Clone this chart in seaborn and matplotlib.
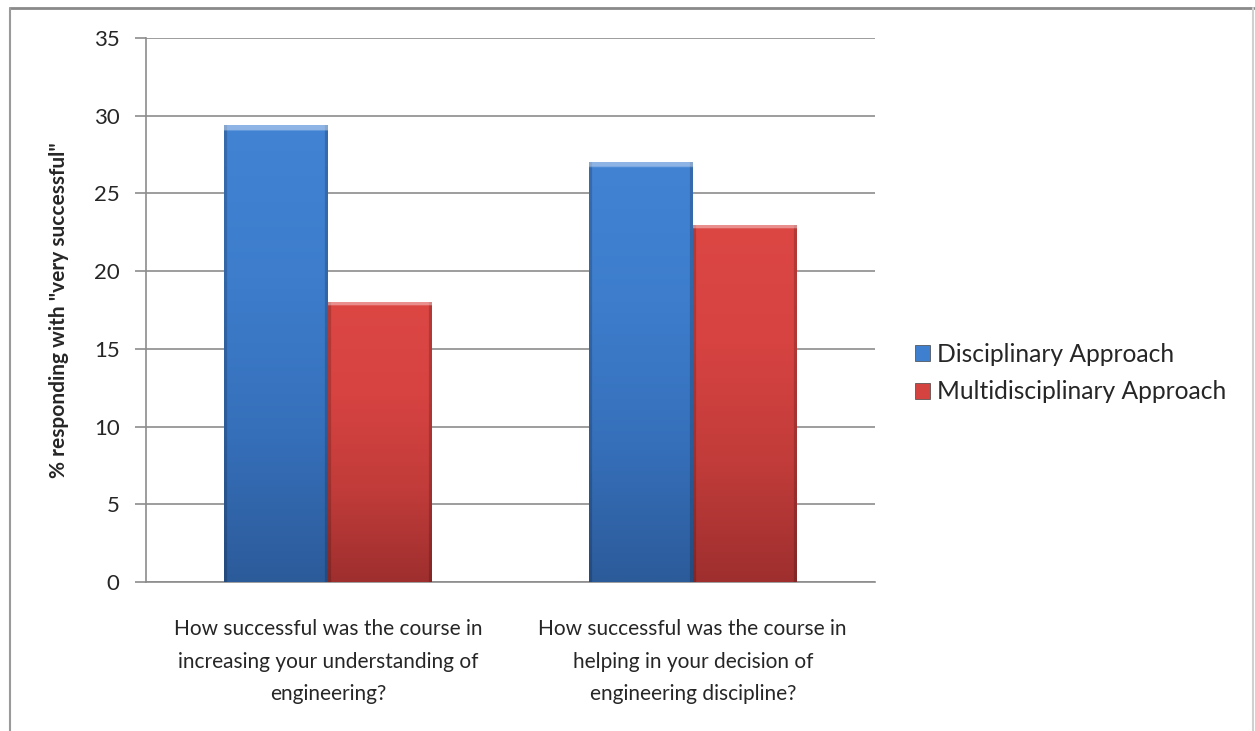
import numpy as np
import pandas as pd
import matplotlib
matplotlib.use('Agg')
import matplotlib.pyplot as plt
import seaborn as sns
from matplotlib.colors import LinearSegmentedColormap
from matplotlib.patches import Rectangle

# Data
questions = ['How successful was the course in\nincreasing your understanding of\nengineering?',
             'How successful was the course in\nhelping in your decision of\nengineering discipline?']
approaches = ['Disciplinary Approach', 'Multidisciplinary Approach']
disciplinary = [29.4, 27.0]
multidisciplinary = [18.0, 23.0]
y_ticks = [0, 5, 10, 15, 20, 25, 30, 35]

df = pd.DataFrame({
    'question': questions * 2,
    'approach': [approaches[0]] * 2 + [approaches[1]] * 2,
    'value': disciplinary + multidisciplinary,
})

sns.set_style('white')
plt.rcParams['font.family'] = ['Lato', 'DejaVu Sans']

fig = plt.figure(figsize=(12.55, 7.31), dpi=100)
ax = fig.add_axes([146 / 1255, 1 - 582 / 731, 729 / 1255, 544 / 731])

palette = {approaches[0]: '#3f7fcf', approaches[1]: '#d54341'}
sns.barplot(data=df, x='question', y='value', hue='approach', palette=palette,
            saturation=1, width=0.57, gap=0, ax=ax, legend=False, zorder=3,
            edgecolor='none', linewidth=0)

# gradient fill on each bar, Excel style (bottom -> top)
grads = {
    '#3f7fcf': ['#2c5b9a', '#3670bb', '#3d7dcc', '#4283d4'],
    '#d54341': ['#9e2f2e', '#c13c3a', '#d64341', '#dc4744'],
}
for p in list(ax.patches):
    fc = matplotlib.colors.to_hex(p.get_facecolor())
    cols = grads.get(fc)
    if cols is None:
        continue
    x0, y0 = p.get_x(), p.get_y()
    w, h = p.get_width(), p.get_height()
    cmap = LinearSegmentedColormap.from_list('g', cols)
    grad = np.linspace(0, 1, 256).reshape(-1, 1)
    rgba = cmap(grad * np.ones((1, 100)))
    # darker side edges and a light top bevel
    rgba[:, :3, :3] *= 0.82
    rgba[:, -3:, :3] *= 0.82
    rgba[-3:, :, :3] = rgba[-3:, :, :3] * 0.6 + 0.4
    im = ax.imshow(rgba, extent=[x0, x0 + w, y0, y0 + h], origin='lower',
                   aspect='auto', zorder=4, interpolation='bilinear')
    im.set_clip_path(p)

ax.set_xlim(-0.5, 1.5)
ax.set_ylim(0, 35)
ax.set_yticks(y_ticks)
ax.grid(axis='y', color='#8c8c8c', linewidth=1.2, zorder=0)
ax.set_axisbelow(True)

for s in ['top', 'right']:
    ax.spines[s].set_visible(False)
for s in ['left', 'bottom']:
    ax.spines[s].set_color('#8c8c8c')
    ax.spines[s].set_linewidth(1.2)

ax.tick_params(axis='y', left=True, length=8, width=1.2, color='#8c8c8c',
               labelsize=16, pad=11)
ax.tick_params(axis='x', bottom=False, labelsize=15, pad=23)
for lbl in ax.get_xticklabels():
    lbl.set_horizontalalignment('center')
    lbl.set_multialignment('center')
    lbl.set_linespacing(1.8)

ax.set_xlabel('')
ax.set_ylabel('% responding with "very successful"', fontsize=15,
              fontweight='bold', labelpad=18)

# legend
handles = [Rectangle((0, 0), 1, 1, facecolor=palette[a], edgecolor='#444444', linewidth=0.5)
           for a in approaches]
fig.legend(handles, approaches, loc='center left', bbox_to_anchor=(893 / 1255, 1 - 373 / 731),
           frameon=False, fontsize=17.7, handlelength=0.6, handleheight=0.6,
           handletextpad=0.3, labelspacing=0.6)

# outer chart frame
fig.add_artist(plt.Line2D([10 / 1255, 1254 / 1255], [1 - 8 / 731, 1 - 8 / 731],
                          transform=fig.transFigure, color='#8a8a8a', linewidth=2))
fig.add_artist(plt.Line2D([10 / 1255, 10 / 1255], [0, 1 - 8 / 731],
                          transform=fig.transFigure, color='#9a9a9a', linewidth=1.5))
fig.add_artist(plt.Line2D([1253 / 1255, 1253 / 1255], [0, 1 - 8 / 731],
                          transform=fig.transFigure, color='#d0d0d0', linewidth=1.5))

fig.savefig('out.png', dpi=100)
